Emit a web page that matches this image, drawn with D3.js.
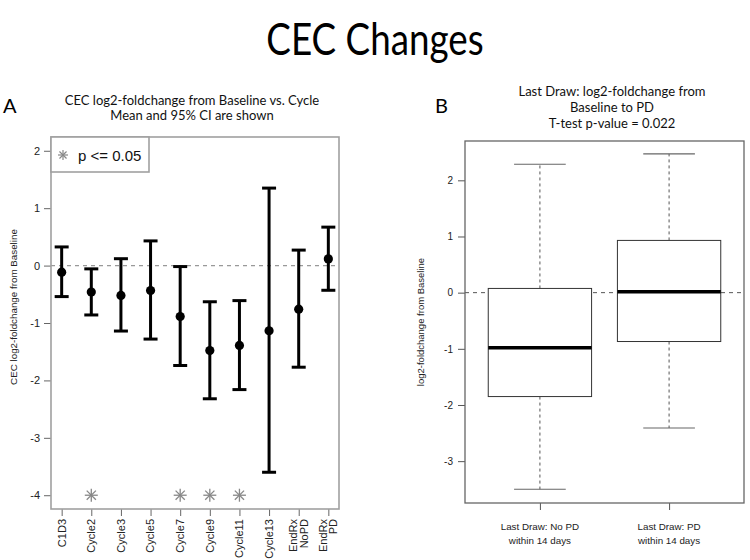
<!DOCTYPE html>
<html>
<head>
<meta charset="utf-8">
<script src="https://cdn.jsdelivr.net/npm/d3@7"></script>
<style>
  html, body { margin: 0; padding: 0; background: #fff; }
  svg { display: block; }
</style>
</head>
<body>
<svg id="chart" width="750" height="560"></svg>
<script>
// ---------- Panel A data ----------
const categories = ["C1D3", "Cycle2", "Cycle3", "Cycle5", "Cycle7", "Cycle9", "Cycle11", "Cycle13", "EndRx\nNoPD", "EndRx\nPD"];
const means = [-0.115, -0.46, -0.52, -0.435, -0.887, -1.48, -1.39, -1.135, -0.76, 0.117];
const ciLower = [-0.54, -0.86, -1.14, -1.28, -1.74, -2.32, -2.16, -3.60, -1.77, -0.43];
const ciUpper = [0.325, -0.057, 0.12, 0.43, -0.017, -0.63, -0.61, 1.35, 0.27, 0.67];
const significant = [false, true, false, false, true, true, true, false, false, false];
const sigMarkerValue = -4;
const yTicksA = [-4, -3, -2, -1, 0, 1, 2];

// ---------- Panel B data ----------
const groups = ["Last Draw: No PD\nwithin 14 days", "Last Draw: PD\nwithin 14 days"];
const whiskerLow = [-3.50, -2.41];
const q1 = [-1.85, -0.87];
const medians = [-0.98, 0.015];
const q3 = [0.075, 0.93];
const whiskerHigh = [2.286, 2.47];
const yTicksB = [-3, -2, -1, 0, 1, 2];

const svg = d3.select("#chart");
const titleFont = "Lato, 'Open Sans', sans-serif";
const plotFont = "'Liberation Sans', Arial, sans-serif";

// Main title
svg.append("text").attr("transform", "translate(375,55) scale(0.92,1.12)").attr("text-anchor", "middle")
  .attr("font-family", titleFont).attr("font-size", 40).attr("fill", "#000")
  .text("CEC Changes");

function asterisk(g, cx, cy, r, color, sw) {
  for (let k = 0; k < 4; k++) {
    const a = k * Math.PI / 4;
    g.append("line")
      .attr("x1", cx - r * Math.cos(a)).attr("y1", cy - r * Math.sin(a))
      .attr("x2", cx + r * Math.cos(a)).attr("y2", cy + r * Math.sin(a))
      .attr("stroke", color).attr("stroke-width", sw);
  }
}

// ================= Panel A =================
const A = { left: 51, right: 339, top: 137, bottom: 509 };
const xA = d3.scaleLinear().domain([0.64, categories.length + 0.36]).range([A.left, A.right]);
const yA = d3.scaleLinear().domain([-4.24, 2.24]).range([A.bottom, A.top]);
const gA = svg.append("g");

gA.append("text").attr("x", 3).attr("y", 113).attr("font-family", titleFont)
  .attr("font-size", 20).text("A");
gA.append("text").attr("x", 192).attr("y", 105).attr("text-anchor", "middle")
  .attr("font-family", titleFont).attr("font-size", 13).attr("fill", "#111")
  .text("CEC log2-foldchange from Baseline vs. Cycle");
gA.append("text").attr("x", 192).attr("y", 120).attr("text-anchor", "middle")
  .attr("font-family", titleFont).attr("font-size", 13).attr("fill", "#111")
  .text("Mean and 95% CI are shown");

// zero line
gA.append("line").attr("x1", A.left).attr("x2", A.right)
  .attr("y1", yA(0)).attr("y2", yA(0))
  .attr("stroke", "#999").attr("stroke-width", 1.2).attr("stroke-dasharray", "4,4");

// y axis
const axA = gA.append("g").attr("transform", `translate(${A.left},0)`)
  .call(d3.axisLeft(yA).tickValues(yTicksA).tickSize(7).tickPadding(4).tickFormat(d3.format("d")));
axA.select(".domain").remove();
axA.selectAll(".tick line").attr("stroke", "#666");
axA.selectAll(".tick text").attr("font-family", plotFont).attr("font-size", 11).attr("fill", "#222")
  .text(d => d < 0 ? "-" + Math.abs(d) : d);

// x axis ticks
const axXA = gA.append("g").attr("transform", `translate(0,${A.bottom})`)
  .call(d3.axisBottom(xA).tickValues(d3.range(1, categories.length + 1)).tickSize(7).tickFormat(""));
axXA.select(".domain").remove();
axXA.selectAll(".tick line").attr("stroke", "#666");

// rotated x labels
categories.forEach((c, i) => {
  const lines = c.split("\n");
  const x = xA(i + 1);
  const t = gA.append("text")
    .attr("transform", `translate(${x},519) rotate(-90)`)
    .attr("text-anchor", "end").attr("font-family", plotFont).attr("font-size", 11).attr("fill", "#222");
  lines.forEach((ln, j) => {
    const off = (j - (lines.length - 1) / 2) * 10.5;
    t.append("tspan").attr("x", 0).attr("y", off).attr("dy", "0.35em").text(ln);
  });
});

gA.append("text").attr("transform", `translate(17,307) rotate(-90)`)
  .attr("text-anchor", "middle").attr("font-family", plotFont).attr("font-size", 9.8).attr("fill", "#222")
  .text("CEC log2-foldchange from Baseline");

// error bars
const capW = 7;
means.forEach((m, i) => {
  const x = xA(i + 1);
  gA.append("line").attr("x1", x).attr("x2", x).attr("y1", yA(ciLower[i])).attr("y2", yA(ciUpper[i]))
    .attr("stroke", "#000").attr("stroke-width", 3);
  [ciLower[i], ciUpper[i]].forEach(v => {
    gA.append("line").attr("x1", x - capW).attr("x2", x + capW).attr("y1", yA(v)).attr("y2", yA(v))
      .attr("stroke", "#000").attr("stroke-width", 3);
  });
  gA.append("circle").attr("cx", x).attr("cy", yA(m)).attr("r", 4.6).attr("fill", "#000");
  if (significant[i]) asterisk(gA, x, yA(sigMarkerValue), 6.5, "#888", 1.3);
});

// frame
gA.append("rect").attr("x", A.left).attr("y", A.top).attr("width", A.right - A.left).attr("height", A.bottom - A.top)
  .attr("fill", "none").attr("stroke", "#a0a0a0").attr("stroke-width", 1.6);

// legend
gA.append("rect").attr("x", A.left).attr("y", A.top).attr("width", 98).attr("height", 35)
  .attr("fill", "#fff").attr("stroke", "#a0a0a0").attr("stroke-width", 1.6);
asterisk(gA, 63, 155, 5, "#888", 1.2);
gA.append("text").attr("x", 78).attr("y", 160.5).attr("font-family", plotFont).attr("font-size", 15)
  .attr("fill", "#111").text("p <= 0.05");

// ================= Panel B =================
const B = { left: 465, right: 744, top: 141, bottom: 503 };
const xB = d3.scaleLinear().domain([0.42, groups.length + 0.58]).range([B.left, B.right]);
const yB = d3.scaleLinear().domain([-3.745, 2.70]).range([B.bottom, B.top]);
const gB = svg.append("g");

gB.append("text").attr("x", 435).attr("y", 113).attr("font-family", titleFont)
  .attr("font-size", 20).text("B");
["Last Draw: log2-foldchange from", "Baseline to PD", "T-test p-value = 0.022"].forEach((s, i) => {
  gB.append("text").attr("x", 612).attr("y", 96 + i * 16).attr("text-anchor", "middle")
    .attr("font-family", titleFont).attr("font-size", 13).attr("fill", "#111").text(s);
});

gB.append("line").attr("x1", B.left).attr("x2", B.right).attr("y1", yB(0)).attr("y2", yB(0))
  .attr("stroke", "#555").attr("stroke-width", 1).attr("stroke-dasharray", "4,4");

const axB = gB.append("g").attr("transform", `translate(${B.left},0)`)
  .call(d3.axisLeft(yB).tickValues(yTicksB).tickSize(7).tickPadding(5).tickFormat(d3.format("d")));
axB.select(".domain").remove();
axB.selectAll(".tick line").attr("stroke", "#555");
axB.selectAll(".tick text").attr("font-family", plotFont).attr("font-size", 10).attr("fill", "#222")
  .text(d => d < 0 ? "-" + Math.abs(d) : d);

const axXB = gB.append("g").attr("transform", `translate(0,${B.bottom})`)
  .call(d3.axisBottom(xB).tickValues(d3.range(1, groups.length + 1)).tickSize(7).tickFormat(""));
axXB.select(".domain").remove();
axXB.selectAll(".tick line").attr("stroke", "#555");

groups.forEach((g, i) => {
  const lines = g.split("\n");
  lines.forEach((ln, j) => {
    gB.append("text").attr("x", xB(i + 1)).attr("y", 530 + j * 13.5).attr("text-anchor", "middle")
      .attr("font-family", plotFont).attr("font-size", 9.8).attr("fill", "#222").text(ln);
  });
});

gB.append("text").attr("transform", `translate(424,${(B.top + B.bottom) / 2}) rotate(-90)`)
  .attr("text-anchor", "middle").attr("font-family", plotFont).attr("font-size", 9.5).attr("fill", "#222")
  .text("log2-foldchange from Baseline");

const boxHalf = 0.4, stapleHalf = 0.2;
groups.forEach((g, i) => {
  const c = i + 1, x = xB(c);
  gB.append("line").attr("x1", x).attr("x2", x).attr("y1", yB(q3[i])).attr("y2", yB(whiskerHigh[i]))
    .attr("stroke", "#555").attr("stroke-width", 1).attr("stroke-dasharray", "3,3");
  gB.append("line").attr("x1", x).attr("x2", x).attr("y1", yB(q1[i])).attr("y2", yB(whiskerLow[i]))
    .attr("stroke", "#555").attr("stroke-width", 1).attr("stroke-dasharray", "3,3");
  [whiskerLow[i], whiskerHigh[i]].forEach(v => {
    gB.append("line").attr("x1", xB(c - stapleHalf)).attr("x2", xB(c + stapleHalf))
      .attr("y1", yB(v)).attr("y2", yB(v)).attr("stroke", "#666").attr("stroke-width", 1.2);
  });
  gB.append("rect").attr("x", xB(c - boxHalf)).attr("y", yB(q3[i]))
    .attr("width", xB(c + boxHalf) - xB(c - boxHalf)).attr("height", yB(q1[i]) - yB(q3[i]))
    .attr("fill", "#fff").attr("stroke", "#333").attr("stroke-width", 1);
  gB.append("line").attr("x1", xB(c - boxHalf)).attr("x2", xB(c + boxHalf))
    .attr("y1", yB(medians[i])).attr("y2", yB(medians[i])).attr("stroke", "#000").attr("stroke-width", 3.5);
});

gB.append("rect").attr("x", B.left).attr("y", B.top).attr("width", B.right - B.left).attr("height", B.bottom - B.top)
  .attr("fill", "none").attr("stroke", "#666").attr("stroke-width", 1.3);
</script>
</body>
</html>
